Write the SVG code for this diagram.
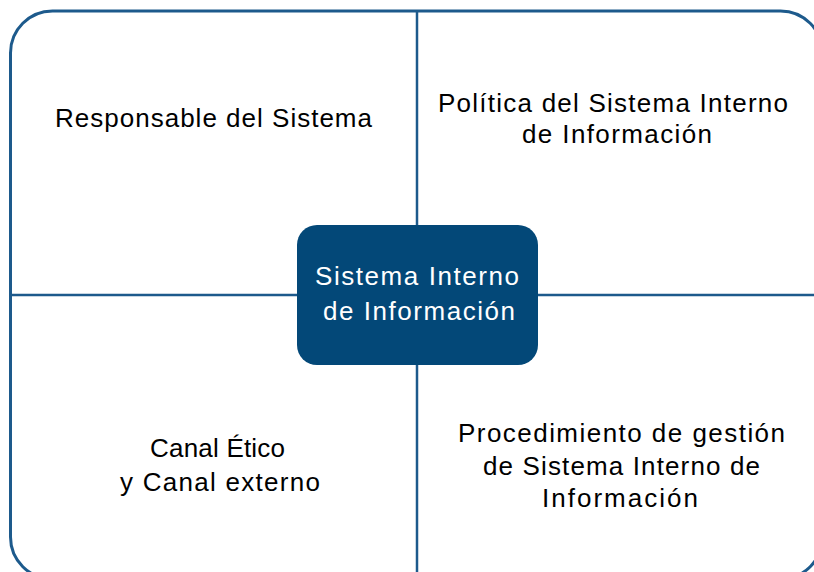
<svg xmlns="http://www.w3.org/2000/svg" width="814" height="572" viewBox="0 0 814 572">
<style>
.frame{fill:#ffffff;stroke:#1d5a8c;stroke-width:3}
.conn{stroke:#1d5a8c;stroke-width:2.5;fill:none}
.lbl{font-family:"Liberation Sans",Arial,sans-serif;font-size:26px;fill:#000000;text-anchor:middle}
.center{fill:#034878}
.clbl{font-family:"Liberation Sans",Arial,sans-serif;font-size:26px;fill:#ffffff;text-anchor:middle}
</style>
<rect x="0" y="0" width="814" height="572" fill="#ffffff"/>
<g id="frame">
<rect class="frame" x="10.5" y="11" width="812" height="568" rx="42" ry="42"/>
</g>
<g id="connectors">
<line class="conn" x1="417" y1="11" x2="417" y2="226"/>
<line class="conn" x1="417" y1="365" x2="417" y2="579"/>
<line class="conn" x1="10.5" y1="295" x2="297" y2="295"/>
<line class="conn" x1="538" y1="295" x2="822.5" y2="295"/>
</g>
<g id="node-responsable">
<text class="lbl" x="213.5" y="127" textLength="317" lengthAdjust="spacing">Responsable del Sistema</text>
</g>
<g id="node-politica">
<text class="lbl" x="613" y="112" textLength="350" lengthAdjust="spacing">Política del Sistema Interno</text>
<text class="lbl" x="617" y="143" textLength="190" lengthAdjust="spacing">de Información</text>
</g>
<g id="node-canal">
<text class="lbl" x="217.5" y="457" textLength="135" lengthAdjust="spacing">Canal Ético</text>
<text class="lbl" x="220" y="491" textLength="200" lengthAdjust="spacing">y Canal externo</text>
</g>
<g id="node-procedimiento">
<text class="lbl" x="621.5" y="442" textLength="327" lengthAdjust="spacing">Procedimiento de gestión</text>
<text class="lbl" x="621.5" y="475" textLength="277" lengthAdjust="spacing">de Sistema Interno de</text>
<text class="lbl" x="620" y="507" textLength="156" lengthAdjust="spacing">Información</text>
</g>
<g id="node-center">
<rect class="center" x="297" y="225" width="241" height="140" rx="20" ry="20"/>
<text class="clbl" x="417" y="285" textLength="204" lengthAdjust="spacing">Sistema Interno</text>
<text class="clbl" x="419" y="320" textLength="192" lengthAdjust="spacing">de Información</text>
</g>
</svg>
